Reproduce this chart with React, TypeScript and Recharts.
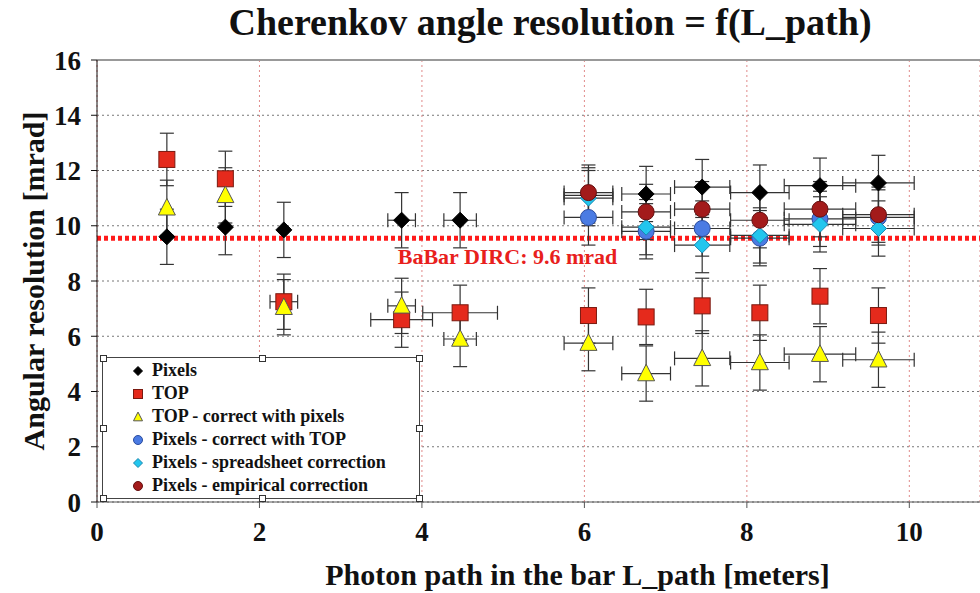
import React from 'react';
import {
  ScatterChart,
  Scatter,
  XAxis,
  YAxis,
  CartesianGrid,
  ErrorBar,
  ReferenceLine,
  Legend,
  Label,
} from 'recharts';

// photon path positions (meters)
const pathAll = [0.86, 1.58, 2.3, 3.75, 4.47, 6.05, 6.76, 7.45, 8.16, 8.9, 9.62];
const pathLong = [6.05, 6.76, 7.45, 8.16, 8.9, 9.62];

// Pixels
const pixelsY = [9.6, 9.95, 9.85, 10.2, 10.2, 11.1, 11.15, 11.4, 11.2, 11.45, 11.55];
const pixelsEy = [1.0, 1.0, 1.0, 1.0, 1.0, 1.0, 1.0, 1.0, 1.0, 1.0, 1.0];
const pixelsEx = [0, 0, 0, 0.17, 0.2, 0.3, 0.3, 0.34, 0.36, 0.44, 0.44];

// TOP
const topY = [12.4, 11.7, 7.25, 6.6, 6.85, 6.75, 6.7, 7.1, 6.85, 7.45, 6.75];
const topEy = [0.95, 1.0, 1.0, 1.0, 1.0, 1.0, 1.0, 1.0, 1.0, 1.0, 1.0];
const topEx = [0, 0, 0.17, 0.38, 0.46, 0, 0, 0, 0, 0, 0];

// TOP - correct with pixels
const topCorrY = [10.65, 11.1, 7.05, 7.1, 5.9, 5.75, 4.65, 5.2, 5.05, 5.35, 5.15];
const topCorrEy = [1.0, 1.0, 1.0, 1.0, 1.0, 1.0, 1.0, 1.0, 1.0, 1.0, 1.0];
const topCorrEx = [0, 0, 0, 0.17, 0.2, 0.3, 0.3, 0.34, 0.36, 0.44, 0.44];

// Pixels corrections (long paths only)
const pixTopY = [10.3, 9.8, 9.9, 9.55, 10.25, 10.3];
const pixSheetY = [11.0, 9.95, 9.3, 9.65, 10.05, 9.9];
const pixEmpY = [11.2, 10.5, 10.6, 10.2, 10.6, 10.4];
const corrEy = [1.0, 1.0, 1.0, 1.0, 1.0, 1.0];
const corrEx = [0.3, 0.3, 0.34, 0.36, 0.44, 0.44];

const xTicks = [0, 2, 4, 6, 8, 10];
const yTicks = [0, 2, 4, 6, 8, 10, 12, 14, 16];
const babarLimit = 9.55;

const toPoints = (xs: number[], ys: number[], ex: number[], ey: number[]) =>
  xs.map((x, i) => ({ x, y: ys[i], ex: ex[i], ey: ey[i] }));

const FONT = '"Liberation Serif", "Times New Roman", serif';

type Kind = 'diamond' | 'square' | 'triangle' | 'circle';

const drawMarker = (kind: Kind, cx: number, cy: number, s: number, fill: string, stroke: string) => {
  const h = s / 2;
  if (kind === 'diamond') {
    return <polygon points={`${cx},${cy - h} ${cx + h},${cy} ${cx},${cy + h} ${cx - h},${cy}`} fill={fill} stroke={stroke} strokeWidth={1} />;
  }
  if (kind === 'square') {
    return <rect x={cx - h} y={cy - h} width={s} height={s} fill={fill} stroke={stroke} strokeWidth={1} />;
  }
  if (kind === 'triangle') {
    return <polygon points={`${cx},${cy - h * 1.1} ${cx + h},${cy + h * 0.85} ${cx - h},${cy + h * 0.85}`} fill={fill} stroke={stroke} strokeWidth={1} />;
  }
  return <circle cx={cx} cy={cy} r={h} fill={fill} stroke={stroke} strokeWidth={1} />;
};

const series = [
  { name: 'Pixels', kind: 'diamond' as Kind, fill: '#000000', stroke: '#000000', size: 16, data: toPoints(pathAll, pixelsY, pixelsEx, pixelsEy) },
  { name: 'TOP', kind: 'square' as Kind, fill: '#e52a1c', stroke: '#7a1a10', size: 16, data: toPoints(pathAll, topY, topEx, topEy) },
  { name: 'TOP - correct with pixels', kind: 'triangle' as Kind, fill: '#ffff00', stroke: '#555555', size: 17, data: toPoints(pathAll, topCorrY, topCorrEx, topCorrEy) },
  { name: 'Pixels - correct with TOP', kind: 'circle' as Kind, fill: '#4a7be3', stroke: '#2b4c9e', size: 16, data: toPoints(pathLong, pixTopY, corrEx, corrEy) },
  { name: 'Pixels - spreadsheet correction', kind: 'diamond' as Kind, fill: '#22c6ee', stroke: '#1a88b0', size: 16, data: toPoints(pathLong, pixSheetY, corrEx, corrEy) },
  { name: 'Pixels - empirical correction', kind: 'circle' as Kind, fill: '#a31b1b', stroke: '#661010', size: 16, data: toPoints(pathLong, pixEmpY, corrEx, corrEy) },
];

const Handle = ({ left, top }: { left: number; top: number }) => (
  <div style={{ position: 'absolute', left: left - 3, top: top - 3, width: 5, height: 5, border: '1px solid #333', background: '#fff' }} />
);

const LegendBox = () => (
  <div style={{ position: 'relative', width: 318, height: 142, border: '1.5px solid #444', boxSizing: 'border-box', background: '#fff' }}>
    <Handle left={0} top={0} />
    <Handle left={159} top={0} />
    <Handle left={316} top={0} />
    <Handle left={0} top={70} />
    <Handle left={316} top={70} />
    <Handle left={0} top={140} />
    <Handle left={159} top={140} />
    <Handle left={316} top={140} />
    {series.map((s, i) => (
      <div key={s.name} style={{ position: 'absolute', left: 28, top: 1 + i * 23, height: 23, display: 'flex', alignItems: 'center' }}>
        <svg width={14} height={14}>{drawMarker(s.kind, 7, 7, 9, s.fill, s.stroke)}</svg>
        <span style={{ marginLeft: 7, fontFamily: FONT, fontWeight: 'bold', fontSize: 18, lineHeight: '23px', color: '#111', whiteSpace: 'nowrap' }}>{s.name}</span>
      </div>
    ))}
  </div>
);

const tickStyle = { fontFamily: FONT, fontWeight: 'bold' as const, fontSize: 27, fill: '#111' };

export default function App() {
  return (
    <div style={{ position: 'absolute', left: 0, top: 0, width: 980, height: 593, background: '#fff', overflow: 'hidden' }}>
      <div
        style={{
          position: 'absolute',
          left: 550,
          top: 0,
          transform: 'translateX(-50%)',
          fontFamily: FONT,
          fontWeight: 'bold',
          fontSize: 38,
          whiteSpace: 'nowrap',
          color: '#111',
          zIndex: 2,
        }}
      >
        Cherenkov angle resolution = f(L_path)
      </div>
      <ScatterChart width={980} height={593} margin={{ top: 60, right: 0, left: 0, bottom: 0 }}>
        <CartesianGrid horizontal={true} vertical={false} stroke="#777" strokeDasharray="2 3" />
        <CartesianGrid horizontal={false} vertical={true} stroke="#e08a8a" strokeDasharray="2 3" />
        <ReferenceLine y={16} stroke="#999" strokeWidth={2} />
        <XAxis
          type="number"
          dataKey="x"
          domain={[0, 10.87]}
          ticks={xTicks}
          height={91}
          tickSize={6}
          tickMargin={14}
          stroke="#555"
          tick={tickStyle}
        >
          <Label
            value="Photon path in the bar L_path [meters]"
            position="insideBottom"
            offset={8}
            dx={39}
            style={{ fontFamily: FONT, fontWeight: 'bold', fontSize: 30, fill: '#111' }}
          />
        </XAxis>
        <YAxis
          type="number"
          dataKey="y"
          domain={[0, 16]}
          ticks={yTicks}
          width={97}
          tickSize={6}
          tickMargin={10}
          stroke="#111"
          tick={tickStyle}
        >
          <Label
            value="Angular resolution [mrad]"
            angle={-90}
            position="insideLeft"
            offset={33}
            style={{ fontFamily: FONT, fontWeight: 'bold', fontSize: 30, fill: '#111', textAnchor: 'middle' }}
          />
        </YAxis>
        <ReferenceLine y={babarLimit} stroke="#ff1a1a" strokeWidth={5} strokeDasharray="4 3">
          <Label
            value="BaBar DIRC: 9.6 mrad"
            position="bottom"
            offset={10}
            dx={-31}
            style={{ fontFamily: FONT, fontWeight: 'bold', fontSize: 22, fill: '#e8201c' }}
          />
        </ReferenceLine>
        {series.map((s) => (
          <Scatter
            key={s.name}
            name={s.name}
            data={s.data}
            isAnimationActive={false}
            shape={(p: any) => drawMarker(s.kind, p.cx, p.cy, s.size, s.fill, s.stroke)}
          >
            <ErrorBar dataKey="ey" direction="y" width={7} stroke="#333" strokeWidth={1.2} />
            <ErrorBar dataKey="ex" direction="x" width={7} stroke="#333" strokeWidth={1.2} />
          </Scatter>
        ))}
        <Legend
          layout="vertical"
          align="center"
          verticalAlign="middle"
          wrapperStyle={{ position: 'absolute', left: 102, top: 357, width: 318, height: 142 }}
          content={() => <LegendBox />}
        />
      </ScatterChart>
    </div>
  );
}
